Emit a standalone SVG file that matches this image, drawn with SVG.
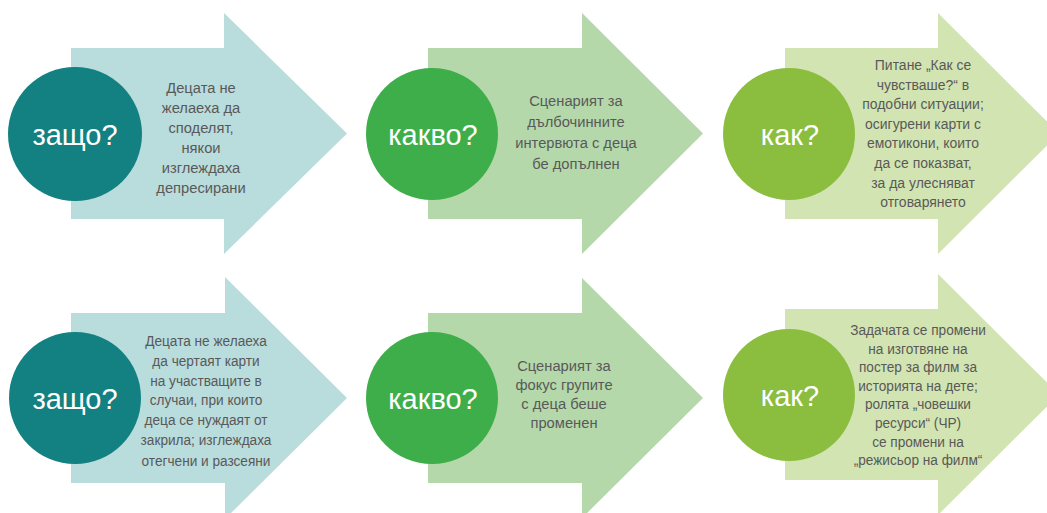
<svg xmlns="http://www.w3.org/2000/svg" width="1047" height="513" viewBox="0 0 1047 513">
<style>
.a1{fill:#b9dcdc}.c1{fill:#138182}
.a2{fill:#b4d8a9}.c2{fill:#3eae4a}
.a3{fill:#d2e4b1}.c3{fill:#8bbd3f}
.q{font-family:"Liberation Sans",Arial,sans-serif;font-size:29px;fill:#fff;text-anchor:middle}
.t{font-family:"Liberation Sans",Arial,sans-serif;font-size:15.5px;fill:#595959;text-anchor:middle}
</style>
<rect width="1047" height="513" fill="#fff"/>
<g id="why1">
<path class="a1" d="M71,48 H224 V13 L347,133.5 L224,254 V219 H71 Z"/>
<circle class="c1" cx="75" cy="134" r="67"/>
<text class="q" x="75" y="145">защо?</text>
<text class="t" transform="translate(201 0) scale(0.95 1)"><tspan x="0" y="93">Децата не</tspan><tspan x="0" y="113">желаеха да</tspan><tspan x="0" y="133">споделят,</tspan><tspan x="0" y="153">някои</tspan><tspan x="0" y="173">изглеждаха</tspan><tspan x="0" y="193">депресирани</tspan></text>
</g>
<g id="what1">
<path class="a2" d="M428,48 H582 V13 L703,133.5 L582,254 V219 H428 Z"/>
<circle class="c2" cx="432" cy="134" r="66"/>
<text class="q" x="433" y="145">какво?</text>
<text class="t" transform="translate(576 0) scale(0.95 1)"><tspan x="0" y="106">Сценарият за</tspan><tspan x="0" y="127">дълбочинните</tspan><tspan x="0" y="148">интервюта с деца</tspan><tspan x="0" y="169">бе допълнен</tspan></text>
</g>
<g id="how1">
<path class="a3" d="M785,48 H938 V13 L1059,133.5 L938,254 V219 H785 Z"/>
<circle class="c3" cx="789" cy="134" r="66"/>
<text class="q" x="790" y="145">как?</text>
<text class="t" transform="translate(923 0) scale(0.9 1)"><tspan x="0" y="70">Питане „Как се</tspan><tspan x="0" y="89.6">чувстваше?“ в</tspan><tspan x="0" y="109.2">подобни ситуации;</tspan><tspan x="0" y="128.8">осигурени карти с</tspan><tspan x="0" y="148.4">емотикони, които</tspan><tspan x="0" y="168">да се показват,</tspan><tspan x="0" y="187.6">за да улесняват</tspan><tspan x="0" y="207.2">отговарянето</tspan></text>
</g>
<g id="why2">
<path class="a1" d="M71,313 H225 V277 L347,398 L225,519 V483 H71 Z"/>
<circle class="c1" cx="75" cy="398" r="66"/>
<text class="q" x="75" y="409">защо?</text>
<text class="t" transform="translate(206 0) scale(0.88 1)"><tspan x="0" y="346">Децата не желаеха</tspan><tspan x="0" y="366">да чертаят карти</tspan><tspan x="0" y="386">на участващите в</tspan><tspan x="0" y="405">случаи, при които</tspan><tspan x="0" y="425">деца се нуждаят от</tspan><tspan x="0" y="445">закрила; изглеждаха</tspan><tspan x="0" y="466">отегчени и разсеяни</tspan></text>
</g>
<g id="what2">
<path class="a2" d="M428,313 H582 V278 L703,398 L582,518 V483 H428 Z"/>
<circle class="c2" cx="432" cy="398" r="66"/>
<text class="q" x="433" y="409">какво?</text>
<text class="t" transform="translate(564 0) scale(0.95 1)"><tspan x="0" y="371">Сценарият за</tspan><tspan x="0" y="390">фокус групите</tspan><tspan x="0" y="409">с деца беше</tspan><tspan x="0" y="428">променен</tspan></text>
</g>
<g id="how2">
<path class="a3" d="M785,309 H938 V274 L1059,394.5 L938,515 V480 H785 Z"/>
<circle class="c3" cx="789" cy="395" r="66"/>
<text class="q" x="790" y="406">как?</text>
<text class="t" transform="translate(918 0) scale(0.88 1)"><tspan x="0" y="335">Задачата се промени</tspan><tspan x="0" y="353.6">на изготвяне на</tspan><tspan x="0" y="372.2">постер за филм за</tspan><tspan x="0" y="390.8">историята на дете;</tspan><tspan x="0" y="409.4">ролята „човешки</tspan><tspan x="0" y="428">ресурси“ (ЧР)</tspan><tspan x="0" y="446.6">се промени на</tspan><tspan x="0" y="465.2">„режисьор на филм“</tspan></text>
</g>
</svg>
